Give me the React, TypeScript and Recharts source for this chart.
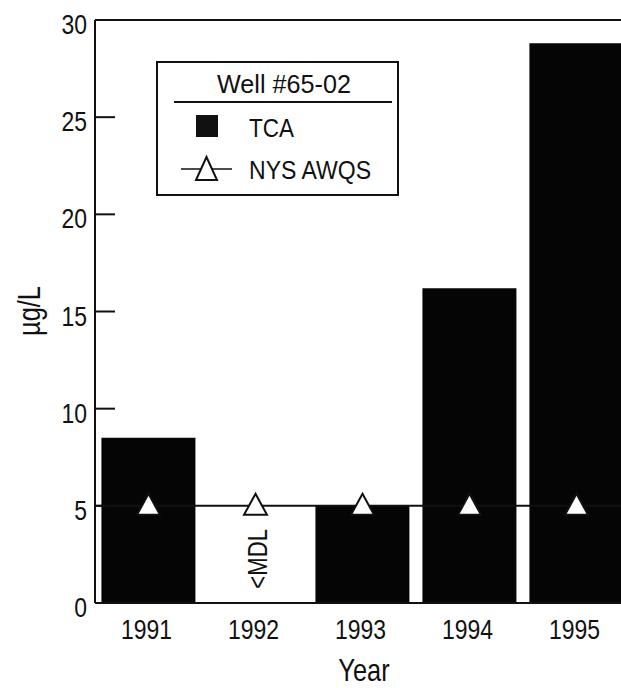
import { ComposedChart, Bar, Line, XAxis, YAxis, ReferenceLine, LabelList } from "recharts";

const years = ["1991", "1992", "1993", "1994", "1995"];
const tca = [8.5, 0, 5.0, 16.2, 28.8];
const awqs = [5, 5, 5, 5, 5];
const notes = ["", "<MDL", "", "", ""];
const yTicks = [0, 5, 10, 15, 20, 25, 30];

const data = years.map((year, i) => ({ year, tca: tca[i], awqs: awqs[i], note: notes[i] }));

const FONT = '"Liberation Sans", Arial, sans-serif';
const INK = "#111";
const NARROW = 0.82; // squeeze Liberation Sans to look like a condensed grotesk

const CondText = ({ x, y, size, anchor = "middle", children, rotate = 0 }: any) => (
  <g transform={`translate(${x} ${y}) rotate(${rotate}) scale(${NARROW} 1)`}>
    <text x={0} y={0} textAnchor={anchor} fontSize={size} fontFamily={FONT} fill={INK}>
      {children}
    </text>
  </g>
);

const YTick = (props: any) => {
  const { x, y, payload } = props;
  return (
    <g>
      <line x1={x + 8} x2={x + 28} y1={y} y2={y} stroke={INK} strokeWidth={2} />
      <CondText x={x} y={y + 14} size={28} anchor="end">
        {payload.value}
      </CondText>
    </g>
  );
};

const XTick = (props: any) => {
  const { x, y, payload } = props;
  return (
    <CondText x={x - 2} y={y + 36} size={28}>
      {payload.value}
    </CondText>
  );
};

const Triangle = (props: any) => {
  const { cx, cy, index } = props;
  if (cx == null || cy == null) return null;
  return (
    <path
      key={index}
      d={`M${cx},${cy - 12} L${cx + 11.5},${cy + 9} L${cx - 11.5},${cy + 9} Z`}
      fill="#fff"
      stroke={INK}
      strokeWidth={2}
    />
  );
};

// "<MDL" note, hung below the AWQS marker of the same year
const NoteLabel = (props: any) => {
  const vb = props.viewBox || {};
  const x = props.x ?? vb.x;
  const y = props.y ?? vb.y;
  const value = props.value;
  if (!value || x == null || y == null) return null;
  return (
    <CondText x={x + 2} y={y + 53} size={27} rotate={-90}>
      <tspan dy="0.35em">{value}</tspan>
    </CondText>
  );
};

const LegendBox = () => (
  <svg width={244} height={136} style={{ display: "block" }}>
    <rect x={1} y={1} width={241} height={133} fill="#fff" stroke={INK} strokeWidth={2} />
    <text x={61} y={32} textLength={134} lengthAdjust="spacingAndGlyphs" fontSize={26} fontFamily={FONT} fill={INK}>
      Well #65-02
    </text>
    <line x1={18} x2={236} y1={41} y2={41} stroke={INK} strokeWidth={2} />
    <rect x={40} y={54} width={22} height={22} fill={INK} />
    <text x={93} y={76} textLength={45} lengthAdjust="spacingAndGlyphs" fontSize={26} fontFamily={FONT} fill={INK}>
      TCA
    </text>
    <line x1={25} x2={76} y1={108} y2={108} stroke={INK} strokeWidth={1.5} />
    <path d="M50.5,96 L61,119 L40,119 Z" fill="#fff" stroke={INK} strokeWidth={2} />
    <text x={93} y={118} textLength={122} lengthAdjust="spacingAndGlyphs" fontSize={26} fontFamily={FONT} fill={INK}>
      NYS AWQS
    </text>
  </svg>
);

export default function App() {
  return (
    <div style={{ position: "absolute", left: 0, top: 0, width: 621, height: 688, overflow: "hidden", background: "#fff" }}>
      <ComposedChart
        width={640}
        height={688}
        data={data}
        margin={{ top: 20, right: 10, left: 0, bottom: 0 }}
        barCategoryGap="6%"
      >
        <XAxis
          dataKey="year"
          tickLine={false}
          tickSize={0}
          tickMargin={0}
          height={85}
          axisLine={{ stroke: INK, strokeWidth: 2 }}
          tick={<XTick />}
        />
        <YAxis
          domain={[0, 30]}
          ticks={yTicks}
          width={95}
          tickLine={false}
          tickSize={0}
          tickMargin={8}
          axisLine={{ stroke: INK, strokeWidth: 2 }}
          tick={<YTick />}
        />
        <ReferenceLine y={30} stroke={INK} strokeWidth={2} />
        <Bar dataKey="tca" fill="#050505" isAnimationActive={false} />
        <ReferenceLine y={5} stroke={INK} strokeWidth={2} />
        <Line
          dataKey="awqs"
          stroke="none"
          dot={<Triangle />}
          activeDot={false}
          isAnimationActive={false}
        >
          <LabelList dataKey="note" content={<NoteLabel />} />
        </Line>
      </ComposedChart>
      <svg width={621} height={688} style={{ position: "absolute", left: 0, top: 0, pointerEvents: "none" }}>
        <CondText x={29} y={311} size={31} rotate={-90}>
          <tspan dy="0.35em">µg/L</tspan>
        </CondText>
        <CondText x={364} y={681} size={31}>
          Year
        </CondText>
      </svg>
      <div style={{ position: "absolute", left: 156, top: 61 }}>
        <LegendBox />
      </div>
    </div>
  );
}
